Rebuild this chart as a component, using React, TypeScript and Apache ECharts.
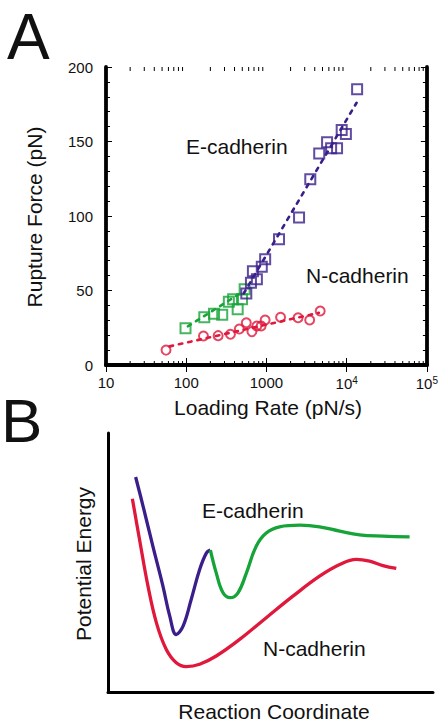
import React, { useEffect, useRef } from "react";
import * as echarts from "echarts";

// ---- Panel A data (loading rate pN/s, rupture force pN) ----
const eRates = [561, 641, 678, 760, 875, 964, 1435, 2550, 3520, 4550, 5700, 6400, 7590, 8670, 9780, 13500];
const eForces = [48, 55.2, 63, 57.5, 66, 71, 84.4, 99, 124.6, 142, 149.5, 145.4, 145.4, 157.7, 155, 185];
const eLowRates = [98, 168, 222, 281, 340, 384, 438, 496, 535];
const eLowForces = [24.6, 32, 34.4, 33.8, 42.5, 44.1, 37.4, 44.1, 50.8];
const nRates = [56, 164, 250, 356, 459, 561, 659, 759, 859, 963, 1500, 2480, 3460, 4680];
const nForces = [10, 19.5, 19.7, 20.6, 24.2, 28.4, 22.4, 26.2, 26.2, 30.2, 32, 31.7, 30.2, 36.2];
const eFitRates = [520, 13300];
const eFitForces = [48, 176];
const eLowFitRates = [105, 520];
const eLowFitForces = [26, 49.5];
const nFitRates = [62, 4500];
const nFitForces = [12.5, 35];
const xMinorTicks = [20, 30, 40, 50, 60, 70, 80, 90, 200, 300, 400, 500, 600, 700, 800, 900, 2000, 3000, 4000, 5000, 6000, 7000, 8000, 9000, 20000, 30000, 40000, 50000, 60000, 70000, 80000, 90000];

// ---- Panel B data (reaction coordinate, potential energy; arbitrary units 0-100) ----
const blueX = [8.5, 10.8, 13.8, 16.9, 19.0, 21.0, 23.1, 25.6, 28.2, 30.3, 31.5];
const blueY = [83.0, 71.7, 56.3, 40.9, 29.3, 22.2, 25.4, 35.7, 47.3, 53.7, 54.8];
const greenX = [31.5, 33.3, 35.4, 37.6, 40.0, 42.6, 45.6, 48.7, 52.8, 59.0, 65.1, 71.3, 77.4, 84.6, 92.8];
const greenY = [54.8, 46.0, 38.3, 36.4, 38.3, 46.0, 56.3, 61.4, 63.8, 64.4, 63.8, 62.1, 60.7, 60.2, 59.9];
const redX = [7.5, 9.7, 12.3, 14.9, 17.9, 21.0, 24.1, 28.2, 33.3, 40.5, 48.7, 56.9, 65.1, 71.3, 76.4, 80.5, 84.6, 88.7];
const redY = [74.6, 58.9, 40.9, 26.7, 16.5, 11.3, 9.8, 10.7, 13.9, 20.3, 28.7, 37.0, 44.7, 49.2, 51.2, 50.5, 48.8, 47.7];

const PURPLE = "#3a1f8a";
const GREEN = "#16a337";
const RED = "#e0183c";
const FONT = '"Liberation Sans", Arial, Helvetica, sans-serif';

const zip = (a: number[], b: number[]) => a.map((v, i) => [v, b[i]]);

const txt = (text: string, x: number, y: number, size: number, align: string, rotation = 0) => ({
  type: "text",
  x,
  y,
  rotation,
  style: {
    text,
    font: `${size}px ${FONT}`,
    fill: "#111",
    textAlign: align,
    textVerticalAlign: "middle",
  },
});

export default function App() {
  const ref = useRef<HTMLDivElement>(null);
  useEffect(() => {
    if (!ref.current) return;
    const chart = echarts.init(ref.current, undefined, { renderer: "svg" });
    const axisLine = { show: true, lineStyle: { color: "#000", width: 3.8 } };
    const labelStyle = { color: "#111", fontSize: 15, fontFamily: FONT };
    const xFormatter = (v: number) => {
      const e = Math.round(Math.log10(v));
      if (e <= 3) return `{b|${Math.round(v)}}`;
      return `{b|10}{s|${e}}`;
    };
    const fitLine = (color: string) => ({
      color,
      width: 2.6,
      type: [3.5, 6],
      cap: "round",
    });
    const option: any = {
      animation: false,
      backgroundColor: "#fff",
      grid: [
        { left: 106, top: 67, width: 324, height: 298 },
        { left: 108, top: 433, width: 325, height: 259 },
      ],
      xAxis: [
        {
          gridIndex: 0,
          type: "log",
          logBase: 10,
          min: 10,
          max: 100000,
          position: "bottom",
          axisLine,
          axisTick: { show: true, inside: true, length: 7, lineStyle: { color: "#000", width: 1 } },
          splitLine: { show: false },
          axisLabel: {
            ...labelStyle,
            margin: 10,
            formatter: xFormatter,
            rich: {
              b: { fontSize: 15, fontFamily: FONT, color: "#111" },
              s: { fontSize: 10, fontFamily: FONT, color: "#111", verticalAlign: "top", padding: [0, 0, 6, 0] },
            },
          },
        },
        {
          gridIndex: 0,
          type: "log",
          logBase: 10,
          min: 10,
          max: 100000,
          position: "top",
          axisLine,
          axisTick: { show: true, inside: true, length: 7, lineStyle: { color: "#000", width: 1 } },
          splitLine: { show: false },
          axisLabel: { show: false },
        },
        {
          gridIndex: 1,
          type: "value",
          min: 0,
          max: 100,
          axisLine: { show: true, lineStyle: { color: "#000", width: 3 } },
          axisTick: { show: false },
          axisLabel: { show: false },
          splitLine: { show: false },
        },
      ],
      yAxis: [
        {
          gridIndex: 0,
          type: "value",
          min: 0,
          max: 200,
          interval: 50,
          position: "left",
          axisLine,
          axisTick: { show: true, inside: true, length: 6, lineStyle: { color: "#000", width: 1 } },
          minorTick: { show: true, splitNumber: 5, length: 4, lineStyle: { color: "#000", width: 1 } },
          splitLine: { show: false },
          axisLabel: { ...labelStyle, margin: 13 },
        },
        {
          gridIndex: 0,
          type: "value",
          min: 0,
          max: 200,
          interval: 50,
          position: "right",
          axisLine,
          axisTick: { show: true, inside: true, length: 6, lineStyle: { color: "#000", width: 1 } },
          minorTick: { show: true, splitNumber: 5, length: 4, lineStyle: { color: "#000", width: 1 } },
          splitLine: { show: false },
          axisLabel: { show: false },
        },
        {
          gridIndex: 1,
          type: "value",
          min: 0,
          max: 100,
          axisLine: { show: true, lineStyle: { color: "#000", width: 3 } },
          axisTick: { show: false },
          axisLabel: { show: false },
          splitLine: { show: false },
        },
      ],
      series: [
        {
          type: "custom",
          xAxisIndex: 0,
          yAxisIndex: 0,
          data: xMinorTicks.map((v) => [v, 0]),
          encode: { x: 0, y: 1 },
          silent: true,
          renderItem: (_p: any, api: any) => {
            const v = api.value(0);
            const b = api.coord([v, 0]);
            const t = api.coord([v, 200]);
            return {
              type: "group",
              children: [
                { type: "line", shape: { x1: b[0], y1: b[1], x2: b[0], y2: b[1] - 4 }, style: { stroke: "#000", lineWidth: 1 } },
                { type: "line", shape: { x1: t[0], y1: t[1], x2: t[0], y2: t[1] + 4 }, style: { stroke: "#000", lineWidth: 1 } },
              ],
            };
          },
        },
        { type: "line", xAxisIndex: 0, yAxisIndex: 0, data: zip(nFitRates, nFitForces), showSymbol: false, lineStyle: fitLine(RED), silent: true },
        { type: "line", xAxisIndex: 0, yAxisIndex: 0, data: zip(eLowFitRates, eLowFitForces), showSymbol: false, lineStyle: fitLine(GREEN), silent: true },
        { type: "line", xAxisIndex: 0, yAxisIndex: 0, data: zip(eFitRates, eFitForces), showSymbol: false, lineStyle: fitLine(PURPLE), silent: true },
        {
          type: "scatter",
          xAxisIndex: 0,
          yAxisIndex: 0,
          data: zip(nRates, nForces),
          symbol: "circle",
          symbolSize: 9,
          itemStyle: { color: "rgba(0,0,0,0)", borderColor: RED, borderWidth: 2 },
        },
        {
          type: "scatter",
          xAxisIndex: 0,
          yAxisIndex: 0,
          data: zip(eLowRates, eLowForces),
          symbol: "rect",
          symbolSize: 10,
          itemStyle: { color: "rgba(0,0,0,0)", borderColor: GREEN, borderWidth: 2 },
        },
        {
          type: "scatter",
          xAxisIndex: 0,
          yAxisIndex: 0,
          data: zip(eRates, eForces),
          symbol: "rect",
          symbolSize: 10,
          itemStyle: { color: "rgba(0,0,0,0)", borderColor: PURPLE, borderWidth: 2 },
        },
        { type: "line", xAxisIndex: 2, yAxisIndex: 2, data: zip(redX, redY), smooth: 0.4, showSymbol: false, lineStyle: { color: RED, width: 3.3 }, silent: true },
        { type: "line", xAxisIndex: 2, yAxisIndex: 2, data: zip(blueX, blueY), smooth: 0.4, showSymbol: false, lineStyle: { color: PURPLE, width: 3.3 }, silent: true },
        { type: "line", xAxisIndex: 2, yAxisIndex: 2, data: zip(greenX, greenY), smooth: 0.4, showSymbol: false, lineStyle: { color: GREEN, width: 3.3 }, silent: true },
      ],
      graphic: [
        txt("A", 7, 37, 64, "left"),
        txt("B", 1, 420, 62, "left"),
        txt("Rupture Force (pN)", 34, 217, 21, "center", Math.PI / 2),
        txt("Loading Rate (pN/s)", 268, 407, 21, "center"),
        txt("E-cadherin", 186, 146, 21, "left"),
        txt("N-cadherin", 306, 275, 21, "left"),
        txt("Potential Energy", 83, 564, 21, "center", Math.PI / 2),
        txt("E-cadherin", 202, 510, 21, "left"),
        txt("N-cadherin", 263, 648, 21, "left"),
        txt("Reaction Coordinate", 274, 711, 21, "center"),
      ],
    };
    chart.setOption(option);
    return () => chart.dispose();
  }, []);
  return <div ref={ref} style={{ position: "absolute", left: 0, top: 0, width: 441, height: 724 }} />;
}
